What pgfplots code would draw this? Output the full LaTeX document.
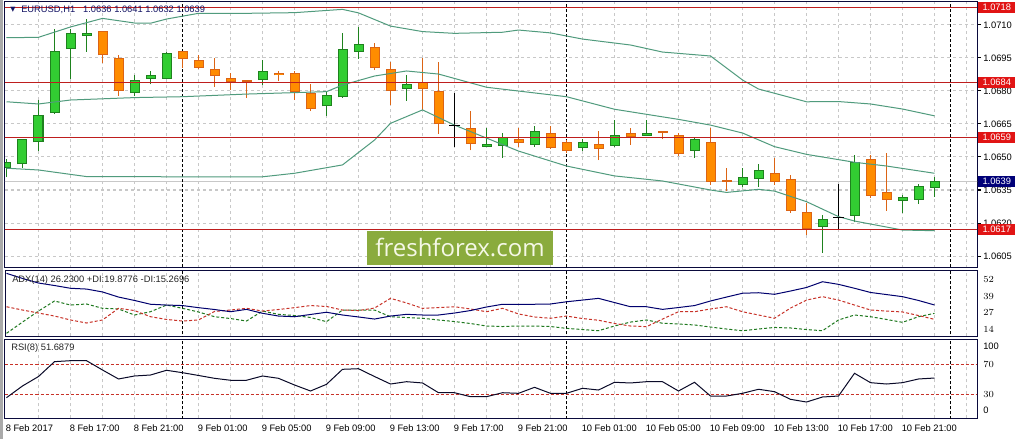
\documentclass[border=0pt]{standalone}
\usepackage{pgfplots}
\pgfplotsset{compat=1.18}
\usepackage{pgfplotstable}
\usepackage{fontspec}
\setmainfont{Liberation Sans}
\newfontfamily\symfont{DejaVu Sans}
\newfontfamily\wmfont{Open Sans}
\newcommand\lbl{\fontsize{7pt}{8pt}\selectfont}

\definecolor{framec}{RGB}{10,10,60}
\definecolor{gridc}{RGB}{200,200,200}
\definecolor{bullf}{RGB}{50,205,50}
\definecolor{bullw}{RGB}{30,130,30}
\definecolor{bearf}{RGB}{255,140,0}
\definecolor{bearw}{RGB}{220,100,20}
\definecolor{bbc}{RGB}{80,155,125}
\definecolor{lvl}{RGB}{190,30,30}
\definecolor{boxred}{RGB}{225,20,20}
\definecolor{boxnavy}{RGB}{0,0,120}
\definecolor{bidc}{RGB}{200,200,200}
\definecolor{adxc}{RGB}{0,0,110}
\definecolor{pdic}{RGB}{30,120,30}
\definecolor{mdic}{RGB}{200,50,40}
\definecolor{rsic}{RGB}{10,10,40}
\definecolor{titlec}{RGB}{20,20,100}
\definecolor{wmbox}{RGB}{138,171,61}
\definecolor{wmtext}{RGB}{245,248,230}
\definecolor{leftgray}{RGB}{170,170,170}

% t = hours from 9 Feb 00:00 ; O H L C
\pgfplotstableread{
t O H L C
-11 1.06450 1.06491 1.06409 1.06477
-10 1.06467 1.06582 1.06449 1.06580
-9 1.06567 1.06759 1.06529 1.06690
-8 1.06699 1.07080 1.06695 1.06982
-7 1.06990 1.07082 1.06856 1.07062
-6 1.07049 1.07129 1.06979 1.07062
-3 1.06790 1.06873 1.06777 1.06849
-2 1.06856 1.06891 1.06830 1.06871
-1 1.06856 1.06979 1.06854 1.06971
5 1.06849 1.06941 1.06829 1.06891
9 1.06730 1.06801 1.06688 1.06780
10 1.06771 1.07065 1.06769 1.06990
11 1.06979 1.07092 1.06947 1.07014
14 1.06808 1.06873 1.06755 1.06830
19 1.06547 1.06630 1.06545 1.06559
20 1.06549 1.06609 1.06497 1.06591
22 1.06556 1.06641 1.06547 1.06617
25 1.06540 1.06580 1.06529 1.06567
27 1.06549 1.06668 1.06547 1.06599
29 1.06597 1.06668 1.06595 1.06608
32 1.06529 1.06590 1.06497 1.06580
35 1.06374 1.06451 1.06362 1.06409
36 1.06399 1.06468 1.06365 1.06440
40 1.06183 1.06236 1.06065 1.06217
42 1.06233 1.06509 1.06203 1.06476
45 1.06299 1.06326 1.06245 1.06317
46 1.06306 1.06379 1.06288 1.06368
47 1.06360 1.06410 1.06320 1.06390
}\bull

\pgfplotstableread{
t O H L C
-5 1.07071 1.07073 1.06929 1.06962
-4 1.06949 1.06964 1.06777 1.06799
0 1.06982 1.06984 1.06903 1.06947
1 1.06940 1.06964 1.06900 1.06906
2 1.06899 1.06949 1.06820 1.06870
3 1.06858 1.06880 1.06805 1.06841
4 1.06849 1.06851 1.06770 1.06841
6 1.06882 1.06891 1.06845 1.06871
7 1.06880 1.06891 1.06758 1.06797
8 1.06791 1.06832 1.06708 1.06717
12 1.07000 1.07017 1.06895 1.06906
13 1.06899 1.06932 1.06736 1.06799
15 1.06841 1.06949 1.06714 1.06808
16 1.06800 1.06933 1.06606 1.06649
18 1.06632 1.06709 1.06530 1.06558
21 1.06580 1.06633 1.06547 1.06565
23 1.06608 1.06641 1.06538 1.06540
24 1.06567 1.06577 1.06518 1.06529
26 1.06559 1.06618 1.06486 1.06538
28 1.06608 1.06632 1.06556 1.06590
30 1.06617 1.06619 1.06580 1.06608
31 1.06599 1.06608 1.06506 1.06515
33 1.06567 1.06633 1.06373 1.06388
34 1.06397 1.06449 1.06347 1.06388
37 1.06427 1.06494 1.06373 1.06388
38 1.06399 1.06418 1.06247 1.06256
39 1.06249 1.06290 1.06144 1.06173
43 1.06490 1.06509 1.06315 1.06324
44 1.06340 1.06520 1.06256 1.06306
}\bear

\pgfplotstableread{
t O H L C
17 1.06641 1.06790 1.06547 1.06641
41 1.06224 1.06379 1.06173 1.06224
}\doji

\pgfplotstableread{
t adx pdi mdi
-11 50.4 4.6 24.9
-10 46.5 13.2 22.4
-9 43.0 21.6 20.1
-8 41.1 29.3 17.8
-7 39.0 26.2 14.8
-6 38.4 27.0 12.5
-5 36.2 23.7 14.8
-4 32.3 23.2 23.7
-3 29.7 18.6 22.0
-2 26.8 21.1 17.3
-1 26.2 26.2 15.2
0 25.8 23.7 14.0
1 24.2 20.9 14.8
2 22.8 17.3 21.3
3 21.1 15.9 22.4
4 22.9 14.0 23.7
5 19.9 21.6 21.6
6 17.8 19.1 22.8
7 17.3 18.2 24.2
8 19.0 16.7 25.8
9 20.7 13.5 25.1
10 18.6 22.4 22.4
11 17.1 22.4 22.0
12 15.5 22.4 23.9
13 17.8 17.3 31.3
14 19.1 16.7 27.8
15 18.6 16.1 23.7
16 18.6 14.8 24.3
17 20.1 13.6 24.9
18 22.0 12.1 23.2
19 24.7 10.2 21.1
20 26.8 9.8 23.7
21 26.8 10.2 19.4
22 26.8 10.2 17.1
23 27.0 9.8 16.1
24 28.7 8.4 17.8
25 30.0 7.5 15.9
26 31.3 6.6 14.6
27 28.1 10.2 12.1
28 24.9 13.2 10.2
29 24.9 14.8 9.7
30 22.9 12.3 15.5
31 24.3 11.7 21.1
32 25.8 11.0 21.1
33 29.3 9.4 23.2
34 32.3 7.9 24.9
35 35.2 6.6 21.1
36 35.6 7.9 18.6
37 34.4 9.1 16.1
38 36.9 8.7 23.9
39 39.6 7.5 30.0
40 44.0 6.6 32.6
41 42.0 14.8 30.0
42 39.0 18.6 26.2
43 35.8 17.3 22.4
44 34.2 15.2 21.6
45 32.6 13.0 20.9
46 29.7 17.3 18.2
47 26.23 19.88 15.27
}\adxdata

\pgfplotstableread{
t rsi
-11 25.5
-10 41.1
-9 53.7
-8 73.5
-7 74.8
-6 74.8
-5 62.4
-4 50.4
-3 54.4
-2 55.7
-1 62.0
0 58.8
1 55.1
2 51.3
3 48.7
4 48.7
5 54.4
6 51.3
7 42.4
8 34.4
9 43.3
10 63.3
11 64.1
12 53.7
13 43.7
14 46.8
15 45.1
16 32.1
17 32.1
18 26.8
19 26.8
20 32.1
21 31.3
22 39.3
23 31.3
24 31.3
25 38.0
26 35.7
27 46.0
28 45.1
29 46.8
30 46.8
31 34.4
32 46.0
33 27.7
34 27.7
35 31.3
36 36.7
37 33.5
38 23.3
39 19.7
40 26.4
41 27.7
42 58.0
43 45.5
44 43.7
45 45.5
46 50.4
47 51.69
}\rsidata

\pgfplotsset{
 mtaxis/.style={scale only axis, width=729pt, xmin=-11.09375, xmax=49.65625,
  anchor=south west,
  axis line style={draw=framec, line width=0.75pt},
  xtick={-9,-7,...,49}, xticklabels={}, xmajorgrids,
  major grid style={draw=gridc, dash pattern=on 2.25pt off 2.25pt, line width=0.75pt},
  xtick style={draw=none},
  ytick pos=right, yticklabel pos=right,
  tick label style={font=\lbl, text=black},
  yticklabel style={anchor=west, inner sep=0pt}},
 wick/.style={draw=none, mark=none, forget plot, error bars/.cd, y dir=plus, y explicit, error mark=none, error bar style={line width=0.75pt, draw=#1, solid}},
 body/.style 2 args={draw=none, mark=none, forget plot, error bars/.cd, y dir=plus, y explicit, error mark=none, error bar style={line width=#1, draw=#2, solid}},
 sep/.style={black, line width=0.75pt, dash pattern=on 2.25pt off 1.5pt, forget plot},
}

\begin{document}
\begin{tikzpicture}
\fill[white] (0,0) rectangle (764.25pt,329.25pt);
\path[use as bounding box] (0,0) rectangle (764.25pt,329.25pt);
\fill[leftgray] (0,0) rectangle (2.25pt,329.25pt);

% ---------------- main price panel
\begin{axis}[mtaxis, at={(3.75pt,128.25pt)}, height=199.5pt,
  ymin=1.059955, ymax=1.072045,
  ytick={1.0605,1.0620,1.0635,1.0650,1.0665,1.0680,1.0695,1.0710},
  yticklabels={1.0605,1.0620,1.0635,1.0650,1.0665,1.0680,1.0695,1.0710},
  ymajorgrids, tick align=outside, major tick length=3pt,
  ytick style={draw=black, line width=0.75pt},
  yticklabel style={xshift=1.5pt}]
\addplot[bidc, line width=0.75pt, forget plot] coordinates {(-12,1.0639) (50,1.0639)};
\addplot[sep] coordinates {(0,1.05) (0,1.08)};
\addplot[sep] coordinates {(24,1.05) (24,1.08)};
\addplot[sep] coordinates {(48,1.05) (48,1.08)};
% wicks
\addplot[wick=bullw] table[x=t, y=L, y error plus expr=\thisrow{H}-\thisrow{L}] {\bull};
\addplot[wick=bearw] table[x=t, y=L, y error plus expr=\thisrow{H}-\thisrow{L}] {\bear};
\addplot[wick=black] table[x=t, y=L, y error plus expr=\thisrow{H}-\thisrow{L}] {\doji};
\addplot[only marks, mark=-, mark size=4.125pt, mark options={black, line width=0.75pt}, forget plot] table[x=t, y=O] {\doji};
% bodies
\addplot[body={7.5pt}{bullw}] table[x=t, y=O, y error plus expr=\thisrow{C}-\thisrow{O}] {\bull};
\addplot[body={6pt}{bullf}] table[x=t, y expr=\thisrow{O}+0.0000455, y error plus expr={max(\thisrow{C}-\thisrow{O}-0.000091,0)}] {\bull};
\addplot[body={7.5pt}{bearw}] table[x=t, y=C, y error plus expr=\thisrow{O}-\thisrow{C}] {\bear};
\addplot[body={6pt}{bearf}] table[x=t, y expr=\thisrow{C}+0.0000455, y error plus expr={max(\thisrow{O}-\thisrow{C}-0.000091,0)}] {\bear};
% Bollinger bands
\addplot[bbc, line width=0.75pt] coordinates {(-11,1.07042) (-9,1.07044) (-7,1.07091) (-5,1.07130) (-3,1.07109) (-2,1.07108) (-1,1.07127) (1,1.07153) (4,1.07153) (7,1.07156) (10,1.07171) (11,1.07155) (13,1.07095) (15,1.07070) (17,1.07062) (20,1.07067) (21,1.07077) (23,1.07064) (25,1.07036) (28,1.07009) (30,1.06977) (33,1.06959) (35,1.06850) (36,1.06809) (39,1.06751) (41,1.06752) (43,1.06741) (45,1.06718) (47,1.06687)};
\addplot[bbc, line width=0.75pt] coordinates {(-11,1.06751) (-9,1.06741) (-7,1.06759) (-3,1.06770) (0,1.06774) (4,1.06786) (9,1.06797) (10,1.06827) (12,1.06868) (14,1.06891) (16,1.06877) (19,1.06817) (24,1.06774) (27,1.06717) (31,1.06671) (33,1.06645) (35,1.06609) (37,1.06547) (39,1.06512) (42,1.06476) (44,1.06459) (47,1.06426)};
\addplot[bbc, line width=0.75pt] coordinates {(-11,1.06449) (-9,1.06441) (-6,1.06411) (0,1.06410) (5,1.06410) (7,1.06426) (10,1.06464) (12,1.06577) (13,1.06653) (15,1.06714) (17,1.06645) (19,1.06586) (21,1.06527) (24,1.06459) (27,1.06414) (30,1.06391) (33,1.06350) (34,1.06339) (36,1.06353) (37,1.06345) (39,1.06297) (41,1.06229) (42,1.06209) (45,1.06168) (47,1.06165)};
% horizontal levels
\addplot[lvl, line width=0.75pt] coordinates {(-12,1.0718) (50,1.0718)};
\addplot[lvl, line width=0.75pt] coordinates {(-12,1.0684) (50,1.0684)};
\addplot[lvl, line width=0.75pt] coordinates {(-12,1.0659) (50,1.0659)};
\addplot[lvl, line width=0.75pt] coordinates {(-12,1.0617) (50,1.0617)};
\coordinate (r1) at (axis cs:49.65625,1.0718);
\coordinate (r2) at (axis cs:49.65625,1.0684);
\coordinate (r3) at (axis cs:49.65625,1.0659);
\coordinate (r4) at (axis cs:49.65625,1.0617);
\coordinate (bid) at (axis cs:49.65625,1.0639);
\end{axis}

% ---------------- ADX panel
\begin{axis}[mtaxis, at={(3.75pt,77.25pt)}, height=49.5pt,
  ymin=2.57, ymax=52.95, ytick={14,27,39,52},
  ytick style={draw=none}, yticklabel style={xshift=4.5pt, yshift=-6pt}]
\addplot[sep] coordinates {(0,0) (0,60)};
\addplot[sep] coordinates {(24,0) (24,60)};
\addplot[sep] coordinates {(48,0) (48,60)};
\addplot[pdic, line width=0.75pt, dash pattern=on 2.25pt off 1.5pt] table[x=t, y=pdi] {\adxdata};
\addplot[mdic, line width=0.75pt, dash pattern=on 2.25pt off 1.5pt] table[x=t, y=mdi] {\adxdata};
\addplot[adxc, line width=0.75pt] table[x=t, y=adx] {\adxdata};
\end{axis}

% ---------------- RSI panel
\begin{axis}[mtaxis, at={(3.75pt,15.525pt)}, height=59.25pt,
  ymin=-2, ymax=103.3, ytick={30,70},
  extra y ticks={94.4,8.1}, extra y tick labels={100,0},
  ytick style={draw=none}, yticklabel style={xshift=4.5pt},
  extra x ticks={-11,-7,...,45},
  extra x tick labels={8 Feb 2017,8 Feb 17:00,8 Feb 21:00,9 Feb 01:00,9 Feb 05:00,9 Feb 09:00,9 Feb 13:00,9 Feb 17:00,9 Feb 21:00,10 Feb 01:00,10 Feb 05:00,10 Feb 09:00,10 Feb 13:00,10 Feb 17:00,10 Feb 21:00},
  extra x tick style={grid=none, xticklabel style={anchor=north west, inner sep=0pt, xshift=-0.75pt, yshift=-5pt}}]
\addplot[sep] coordinates {(0,-10) (0,110)};
\addplot[sep] coordinates {(24,-10) (24,110)};
\addplot[sep] coordinates {(48,-10) (48,110)};
\addplot[mdic, line width=0.75pt, dash pattern=on 2.25pt off 1.5pt] coordinates {(-12,70) (50,70)};
\addplot[mdic, line width=0.75pt, dash pattern=on 2.25pt off 1.5pt] coordinates {(-12,30) (50,30)};
\addplot[rsic, line width=0.75pt] table[x=t, y=rsi] {\rsidata};
\end{axis}

% labels of levels
\foreach \c/\v in {r1/1.0718, r2/1.0684, r3/1.0659, r4/1.0617}
  \node[anchor=west, fill=boxred, text=white, font=\lbl, inner sep=0pt, minimum width=27.75pt, minimum height=8.25pt] at ([xshift=0.75pt]\c) {\v};
\node[anchor=west, fill=boxnavy, text=white, font=\lbl, inner sep=0pt, minimum width=27.75pt, minimum height=8.25pt] at ([xshift=0.75pt]bid) {1.0639};

% titles
\node[anchor=center, text=titlec, font=\symfont\fontsize{5pt}{6pt}\selectfont, inner sep=0pt] at (9.75pt,322.1pt) {▼};
\node[anchor=west, text=titlec, font=\lbl, inner sep=0pt] at (15.75pt,322.1pt) {EURUSD,H1\hspace{4pt} 1.0636 1.0641 1.0632 1.0639};
\node[anchor=west, text=black!85, font=\lbl, inner sep=0pt] at (9pt,119.25pt) {ADX(14) 26.2300 +DI:19.8776 -DI:15.2696};
\node[anchor=west, text=black!85, font=\lbl, inner sep=0pt] at (8.25pt,68.5pt) {RSI(8) 51.6879};

% watermark
\fill[wmbox] (275.25pt,130.5pt) rectangle (414.75pt,156pt);
\node[text=wmtext, font=\wmfont\fontsize{18pt}{20pt}\selectfont, inner sep=0pt] at (345pt,143.5pt) {freshforex.com};
\end{tikzpicture}
\end{document}
